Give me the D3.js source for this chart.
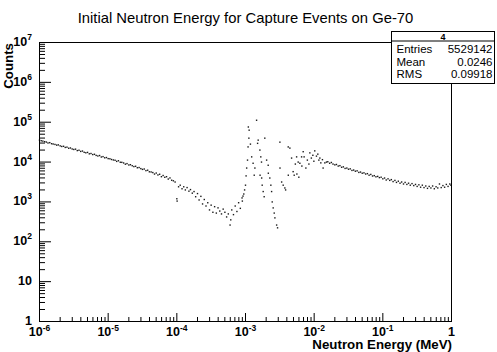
<!DOCTYPE html>
<html>
<head>
<meta charset="utf-8">
<script src="https://cdn.jsdelivr.net/npm/d3@7"></script>
<style>
  body { margin: 0; background: #fff; }
  svg { display: block; font-family: "Liberation Sans", Arial, Helvetica, sans-serif; }
</style>
</head>
<body>
<svg id="chart" width="497" height="352"></svg>
<script>
const titleText = 'Initial Neutron Energy for Capture Events on Ge-70';
const xTitle = 'Neutron Energy (MeV)';
const yTitle = 'Counts';
const xDomain = [1e-6, 1];
const yDomain = [1, 1e7];
const xTickExp = [-6, -5, -4, -3, -2, -1, 0];
const yTickExp = [0, 1, 2, 3, 4, 5, 6, 7];
const statsName = '4';
const statsLabels = ['Entries', 'Mean', 'RMS'];
const statsValues = ['5529142', '0.0246', '0.09918'];

// slow region, 1e-6 .. 1e-4 MeV
const lowE = [
  1.00e-6,1.06e-6,1.12e-6,1.19e-6,1.26e-6,1.33e-6,1.41e-6,1.50e-6,1.58e-6,1.68e-6,
  1.78e-6,1.88e-6,2.00e-6,2.11e-6,2.24e-6,2.37e-6,2.51e-6,2.66e-6,2.82e-6,2.99e-6,
  3.16e-6,3.35e-6,3.55e-6,3.76e-6,3.98e-6,4.22e-6,4.47e-6,4.73e-6,5.01e-6,5.31e-6,
  5.62e-6,5.96e-6,6.31e-6,6.68e-6,7.08e-6,7.50e-6,7.94e-6,8.41e-6,8.91e-6,9.44e-6,
  1.00e-5,1.06e-5,1.12e-5,1.19e-5,1.26e-5,1.33e-5,1.41e-5,1.50e-5,1.58e-5,1.68e-5,
  1.78e-5,1.88e-5,2.00e-5,2.11e-5,2.24e-5,2.37e-5,2.51e-5,2.66e-5,2.82e-5,2.99e-5,
  3.16e-5,3.35e-5,3.55e-5,3.76e-5,3.98e-5,4.22e-5,4.47e-5,4.73e-5,5.01e-5,5.31e-5,
  5.62e-5,5.96e-5,6.31e-5,6.68e-5,7.08e-5,7.50e-5,7.94e-5,8.41e-5
];
const lowN = [
  35500,34300,33600,32500,31800,30100,30700,28900,28400,27700,
  26600,27000,25500,24600,24900,23300,23700,22200,22600,21300,
  20700,21100,19400,19800,18500,18900,17600,17100,17500,16100,
  16400,15400,15700,14700,14200,14600,13400,13700,12800,13000,
  12200,12100,11600,11300,11100,10400,10800,9900,9850,9500,
  8850,9150,8450,8600,8100,7700,7850,7200,7300,6850,
  6550,6700,6100,6250,5700,5650,5450,5000,5300,4750,
  4950,4300,4600,4150,4300,3750,4000,3500
];

// dip before the resonances
const dipE = [
  8.91e-5,9.44e-5,1.00e-4,1.01e-4,1.06e-4,1.12e-4,1.19e-4,1.26e-4,1.33e-4,1.41e-4,
  1.50e-4,1.58e-4,1.68e-4,1.78e-4,1.88e-4,2.00e-4,2.11e-4,2.24e-4,2.37e-4,2.51e-4,
  2.66e-4,2.82e-4,2.99e-4,3.16e-4,3.35e-4,3.55e-4,3.76e-4,3.98e-4,4.22e-4,4.47e-4,
  4.73e-4,5.01e-4,5.31e-4,5.62e-4,5.96e-4,6.10e-4,6.31e-4,6.68e-4,7.08e-4,7.50e-4,
  7.94e-4,8.41e-4,8.91e-4,9.00e-4,9.20e-4,9.44e-4,9.70e-4,1.00e-3,1.02e-3
];
const dipN = [
  3390,3160,1200,1050,2400,2630,2140,2400,2000,2290,
  1860,2040,1660,1820,1350,1620,1120,1380,890,1150,
  790,955,630,830,550,760,525,710,590,500,
  660,550,420,500,263,355,630,480,790,575,
  955,690,1260,1050,1400,1580,2000,2630,4500
];

// resonance region
const resE = [
  1.04e-3,1.07e-3,1.09e-3,1.12e-3,1.13e-3,1.10e-3,1.45e-3,1.18e-3,1.23e-3,1.29e-3,
  1.37e-3,1.34e-3,1.53e-3,1.50e-3,1.62e-3,1.67e-3,1.71e-3,1.63e-3,1.72e-3,1.75e-3,
  1.81e-3,1.87e-3,1.91e-3,2.03e-3,2.14e-3,2.15e-3,2.26e-3,2.34e-3,2.40e-3,2.45e-3,
  2.53e-3,2.62e-3,2.68e-3,2.84e-3,2.93e-3,3.17e-3,3.18e-3,3.36e-3,3.54e-3,3.74e-3,
  3.84e-3,4.19e-3,4.43e-3,4.20e-3,4.69e-3,4.94e-3,5.12e-3,5.55e-3,5.85e-3,6.19e-3,
  6.56e-3,6.92e-3,7.14e-3,7.57e-3,7.96e-3,8.38e-3,8.65e-3,9.10e-3,9.57e-3,9.90e-3,
  1.02e-2,1.08e-2,1.13e-2,1.17e-2,1.21e-2,1.25e-2,1.32e-2,1.35e-2,1.43e-2,1.51e-2,
  5.60e-3,5.98e-3,6.62e-3,5.32e-3
];
const resN = [
  7080,11200,24000,39800,63100,75900,112000,28200,13500,9330,
  7080,4680,35500,29500,20000,13500,10000,4680,3980,2630,
  1820,1350,39800,11200,8320,5250,3980,2630,1820,1000,
  708,525,398,263,224,31600,7080,3160,2630,2240,
  2000,24000,22400,4680,12600,5750,4680,13500,10000,9330,
  13500,18200,13500,7080,11200,8910,17000,12600,14800,10500,
  19100,14100,15800,11200,12600,9550,11500,7080,9550,10000,
  5010,4170,7940,8910
];

// fast region, 1.6e-2 .. 1 MeV
const fastE = [
  1.58e-2,1.68e-2,1.78e-2,1.88e-2,2.00e-2,2.11e-2,2.24e-2,2.37e-2,2.51e-2,2.66e-2,
  2.82e-2,2.99e-2,3.16e-2,3.35e-2,3.55e-2,3.76e-2,3.98e-2,4.22e-2,4.47e-2,4.73e-2,
  5.01e-2,5.31e-2,5.62e-2,5.96e-2,6.31e-2,6.68e-2,7.08e-2,7.50e-2,7.94e-2,8.41e-2,
  8.91e-2,9.44e-2,
  0.100,0.106,0.112,0.119,0.126,0.133,0.141,0.150,0.158,0.168,
  0.178,0.188,0.200,0.211,0.224,0.237,0.251,0.266,0.282,0.299,
  0.316,0.335,0.355,0.376,0.398,0.422,0.447,0.473,0.501,0.531,
  0.562,0.596,0.631,0.668,0.708,0.750,0.794,0.841,0.891,0.944,
  0.980
];
const fastN = [
  10200,9330,9770,8910,8510,8710,7940,8130,7410,7590,
  6920,7080,6610,6760,6170,6310,5890,6030,5500,5620,
  5250,5370,5010,5130,4680,4900,4470,4570,4270,4370,
  4070,4170,
  3800,3980,3550,3800,3470,3630,3240,3470,3090,3310,
  2950,3160,2820,3090,2750,2950,2630,2880,2570,2750,
  2450,2690,2340,2630,2290,2510,2190,2450,2240,2510,
  2140,2400,2240,2820,2290,2570,2340,2750,2450,2820,
  2630
];

const frame = { left: 39, right: 451, top: 42, bottom: 321 };

const svg = d3.select('svg#chart');

const x = d3.scaleLog().domain(xDomain).range([frame.left, frame.right]);
const y = d3.scaleLog().domain(yDomain).range([frame.bottom, frame.top]);

const points = [
  ...d3.zip(lowE, lowN),
  ...d3.zip(dipE, dipN),
  ...d3.zip(resE, resN),
  ...d3.zip(fastE, fastN)
];

// title
svg.append('text')
  .attr('x', 245.5)
  .attr('y', 22.5)
  .attr('text-anchor', 'middle')
  .style('font-size', '14.8px')
  .text(titleText);

// markers
svg.append('g').selectAll('rect').data(points)
  .enter().append('rect')
    .attr('x', d => x(d[0]) - 0.2)
    .attr('y', d => y(d[1]) - 0.2)
    .attr('width', 1.4)
    .attr('height', 1.4)
    .attr('fill', '#1a1a1a');

// frame
svg.append('rect')
  .attr('x', frame.left + 0.5)
  .attr('y', frame.top + 0.5)
  .attr('width', frame.right - frame.left)
  .attr('height', frame.bottom - frame.top)
  .attr('fill', 'none')
  .attr('stroke', '#000')
  .attr('stroke-width', 1);

const xMajor = xTickExp.map(e => Math.pow(10, e));
const yMajor = yTickExp.map(e => Math.pow(10, e));
const isMajor = (v, list) => list.some(t => Math.abs(v / t - 1) < 1e-6);
const xMinor = x.ticks().filter(v => !isMajor(v, xMajor));
const yMinor = y.ticks().filter(v => !isMajor(v, yMajor));

const gx = svg.append('g').attr('transform', `translate(0,${frame.bottom})`);
gx.append('g').call(d3.axisBottom(x).tickValues(xMajor).tickSize(-8).tickFormat(''));
gx.append('g').call(d3.axisBottom(x).tickValues(xMinor).tickSize(-4).tickFormat(''));
gx.selectAll('.domain').remove();

const gy = svg.append('g').attr('transform', `translate(${frame.left},0)`);
gy.append('g').call(d3.axisLeft(y).tickValues(yMajor).tickSize(-12).tickFormat(''));
gy.append('g').call(d3.axisLeft(y).tickValues(yMinor).tickSize(-6).tickFormat(''));
gy.selectAll('.domain').remove();

function powLabel(sel, e, up) {
  if (e === 0) { sel.text('1'); return; }
  sel.append('tspan').text('10');
  if (e !== 1) {
    sel.append('tspan')
      .attr('dy', -up)
      .style('font-size', '8.5px')
      .text(e);
  }
}

svg.append('g').selectAll('text').data(xTickExp)
  .enter().append('text')
    .attr('x', e => x(Math.pow(10, e)) + 0.5)
    .attr('y', 336)
    .attr('text-anchor', 'middle')
    .style('font-size', '12.5px')
    .style('font-weight', 'bold')
    .each(function (e) { powLabel(d3.select(this), e, 5); });

svg.append('g').selectAll('text').data(yTickExp)
  .enter().append('text')
    .attr('x', 32)
    .attr('y', e => y(Math.pow(10, e)) + 4)
    .attr('text-anchor', 'end')
    .style('font-size', '12.5px')
    .style('font-weight', 'bold')
    .each(function (e) { powLabel(d3.select(this), e, 6); });

// axis titles
svg.append('text')
  .attr('x', frame.right + 1)
  .attr('y', 349.3)
  .attr('text-anchor', 'end')
  .style('font-size', '13.3px')
  .style('font-weight', 'bold')
  .text(xTitle);

svg.append('text')
  .attr('transform', `translate(13,${frame.top + 1}) rotate(-90)`)
  .attr('text-anchor', 'end')
  .style('font-size', '13.3px')
  .style('font-weight', 'bold')
  .text(yTitle);

// stats box
const box = { x: 391.5, y: 31.5, w: 103, h: 52, head: 9.5 };
const sb = svg.append('g');
sb.append('rect')
  .attr('x', box.x).attr('y', box.y)
  .attr('width', box.w).attr('height', box.h)
  .attr('fill', '#fff').attr('stroke', '#000');
sb.append('line')
  .attr('x1', box.x).attr('x2', box.x + box.w)
  .attr('y1', box.y + box.head).attr('y2', box.y + box.head)
  .attr('stroke', '#000');
sb.append('text')
  .attr('x', box.x + box.w / 2)
  .attr('y', box.y + 8)
  .attr('text-anchor', 'middle')
  .style('font-size', '9px')
  .style('font-weight', 'bold')
  .text(statsName);
sb.selectAll('text.lab').data(statsLabels)
  .enter().append('text')
    .attr('class', 'lab')
    .attr('x', box.x + 5)
    .attr('y', (d, i) => 53 + i * 12.7)
    .style('font-size', '11.5px')
    .text(d => d);
sb.selectAll('text.val').data(statsValues)
  .enter().append('text')
    .attr('class', 'val')
    .attr('x', box.x + box.w - 2)
    .attr('y', (d, i) => 53 + i * 12.7)
    .attr('text-anchor', 'end')
    .style('font-size', '11.5px')
    .text(d => d);
</script>
</body>
</html>
